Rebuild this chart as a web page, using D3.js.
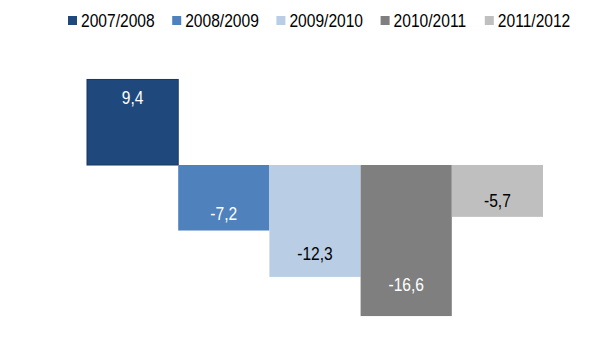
<!DOCTYPE html>
<html><head><meta charset="utf-8">
<script src="https://cdn.jsdelivr.net/npm/d3@7"></script>
<style>
html,body{margin:0;padding:0;background:#fff;}
text{font-family:"Liberation Sans",Arial,sans-serif;}
</style></head>
<body><svg id="c" width="604" height="338"></svg>
<script>
const series = ["2007/2008","2008/2009","2009/2010","2010/2011","2011/2012"];
const values = [9.4,-7.2,-12.3,-16.6,-5.7];
const labels = ["9,4","-7,2","-12,3","-16,6","-5,7"];
const colors = ["#1F497D","#4F81BD","#B9CDE5","#7F7F7F","#BFBFBF"];
const labelColors = ["#fff","#fff","#000","#fff","#000"];

const svg = d3.select("#c");
const x = d3.scaleBand().domain(series).range([87,543]).padding(0);
const y = d3.scaleLinear().domain([-18,12]).range([328.8,55.8]);

// condense text to mimic a narrow face
function narrow(sel){
  sel.each(function(){
    const w = this.getComputedTextLength();
    d3.select(this).attr("textLength", w*0.82).attr("lengthAdjust","spacingAndGlyphs");
  });
}

svg.selectAll("rect.bar").data(series).join("rect")
  .attr("class","bar")
  .attr("x",d=>x(d))
  .attr("width",x.bandwidth())
  .attr("y",(d,i)=>Math.min(y(0),y(values[i])))
  .attr("height",(d,i)=>Math.abs(y(values[i])-y(0)))
  .attr("fill",(d,i)=>colors[i])
  .attr("stroke",(d,i)=>i===0?"#17375E":"none")
  .attr("stroke-width",1);

svg.selectAll("text.lab").data(series).join("text")
  .attr("class","lab")
  .attr("x",d=>x(d)+x.bandwidth()/2)
  .attr("y",(d,i)=>{
    const len = Math.abs(y(values[i])-y(0));
    const off = Math.min(0.79*len, len-17);
    return values[i]>=0 ? y(0)-off : y(0)+off;
  })
  .attr("dy","0.36em")
  .attr("text-anchor","middle")
  .attr("font-size",19)
  .attr("fill",(d,i)=>labelColors[i])
  .text((d,i)=>labels[i])
  .call(narrow);

const lg = svg.append("g");
series.forEach((s,i)=>{
  const lx = 68 + i*104.2;
  lg.append("rect").attr("x",lx).attr("y",16).attr("width",9).attr("height",9).attr("fill",colors[i]);
  lg.append("text").attr("x",lx+13).attr("y",26.7).attr("font-size",19).attr("fill","#000").text(s).call(narrow);
});
</script></body></html>
